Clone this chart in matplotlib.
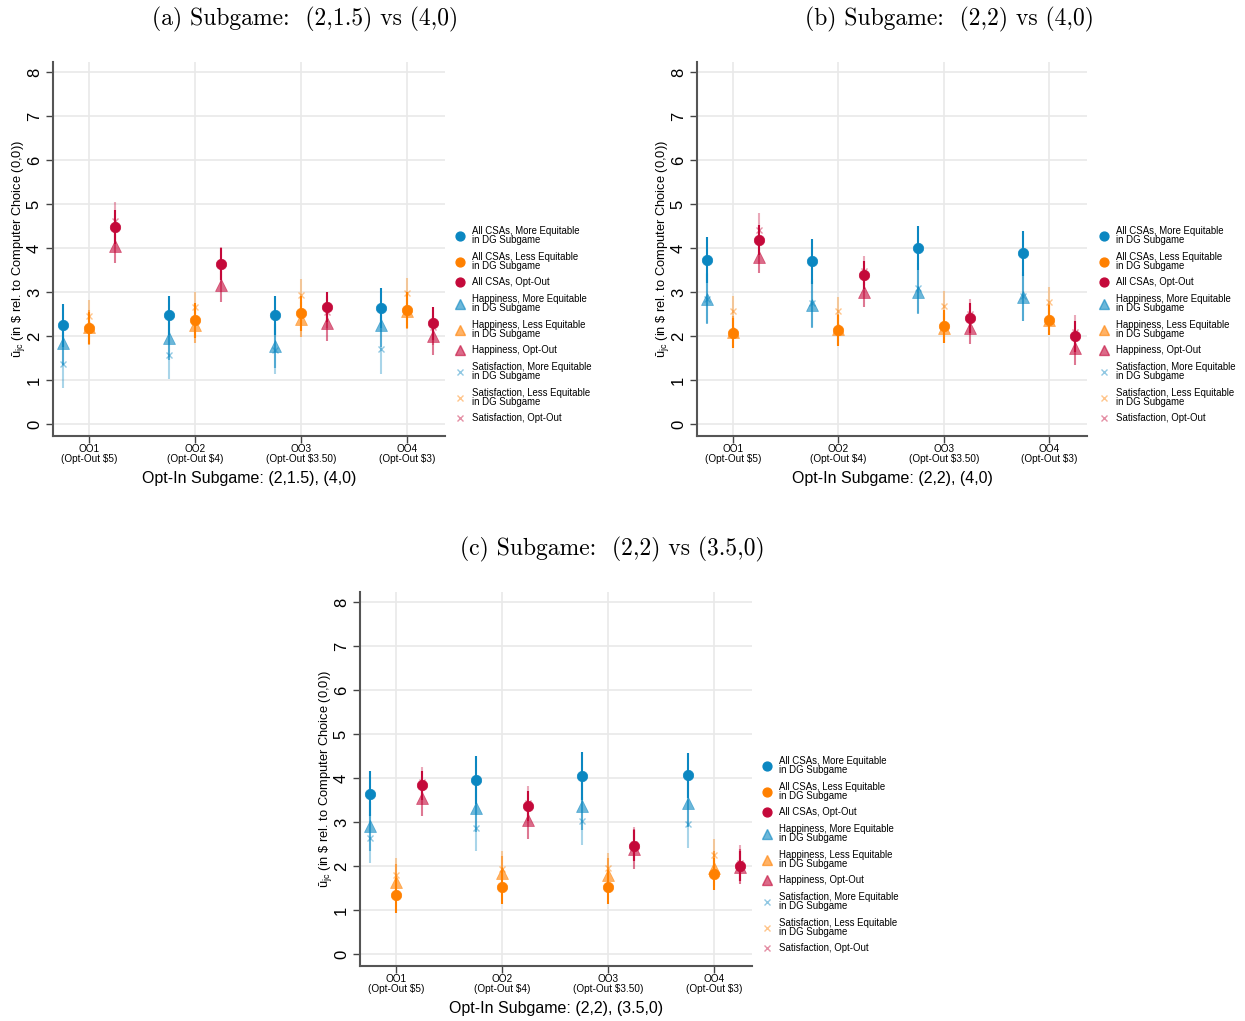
import matplotlib
matplotlib.use("Agg")
import matplotlib.pyplot as plt
from matplotlib.lines import Line2D
import numpy as np

plt.rcParams['font.family'] = ['Liberation Sans', 'DejaVu Sans']
plt.rcParams['mathtext.fontset'] = 'custom'
plt.rcParams['mathtext.rm'] = 'Liberation Sans'
plt.rcParams['mathtext.it'] = 'Liberation Sans'

# ---------------- data ----------------
categories = ["OO1\n(Opt-Out $5)", "OO2\n(Opt-Out $4)", "OO3\n(Opt-Out $3.50)", "OO4\n(Opt-Out $3)"]
legend_labels = [
    "All CSAs, More Equitable\nin DG Subgame",
    "All CSAs, Less Equitable\nin DG Subgame",
    "All CSAs, Opt-Out",
    "Happiness, More Equitable\nin DG Subgame",
    "Happiness, Less Equitable\nin DG Subgame",
    "Happiness, Opt-Out",
    "Satisfaction, More Equitable\nin DG Subgame",
    "Satisfaction, Less Equitable\nin DG Subgame",
    "Satisfaction, Opt-Out",
]
panel_titles = ["(a) Subgame:  (2,1.5) vs (4,0)",
                "(b) Subgame:  (2,2) vs (4,0)",
                "(c) Subgame:  (2,2) vs (3.5,0)"]
xlabels = ["Opt-In Subgame: (2,1.5), (4,0)",
           "Opt-In Subgame: (2,2), (4,0)",
           "Opt-In Subgame: (2,2), (3.5,0)"]

# panel (a): point estimates and 95% CI half-widths
a_all_more = [2.24, 2.47, 2.47, 2.64]
a_all_more_ci = [0.49, 0.45, 0.44, 0.45]
a_all_less = [2.18, 2.36, 2.52, 2.59]
a_all_less_ci = [0.37, 0.40, 0.40, 0.40]
a_all_opt = [4.47, 3.63, 2.66, 2.29]
a_all_opt_ci = [0.39, 0.36, 0.34, 0.37]
a_hap_more = [1.84, 1.95, 1.78, 2.24]
a_hap_more_ci = [0.50, 0.50, 0.50, 0.50]
a_hap_less = [2.20, 2.24, 2.38, 2.56]
a_hap_less_ci = [0.40, 0.40, 0.40, 0.40]
a_hap_opt = [4.04, 3.16, 2.29, 2.01]
a_hap_opt_ci = [0.38, 0.38, 0.40, 0.45]
a_sat_more = [1.36, 1.56, 1.68, 1.70]
a_sat_more_ci = [0.55, 0.54, 0.55, 0.56]
a_sat_less = [2.46, 2.66, 2.94, 2.97]
a_sat_less_ci = [0.36, 0.35, 0.35, 0.35]
a_sat_opt = [4.62, 3.65, 2.55, 2.20]
a_sat_opt_ci = [0.43, 0.38, 0.36, 0.40]

# panel (b)
b_all_more = [3.73, 3.70, 4.00, 3.88]
b_all_more_ci = [0.52, 0.51, 0.51, 0.51]
b_all_less = [2.07, 2.13, 2.22, 2.37]
b_all_less_ci = [0.35, 0.35, 0.38, 0.34]
b_all_opt = [4.19, 3.38, 2.41, 1.99]
b_all_opt_ci = [0.34, 0.32, 0.34, 0.35]
b_hap_more = [2.85, 2.71, 3.00, 2.88]
b_hap_more_ci = [0.58, 0.53, 0.50, 0.53]
b_hap_less = [2.10, 2.15, 2.18, 2.37]
b_hap_less_ci = [0.35, 0.35, 0.35, 0.35]
b_hap_opt = [3.79, 3.01, 2.19, 1.72]
b_hap_opt_ci = [0.36, 0.34, 0.37, 0.38]
b_sat_more = [2.85, 2.75, 3.09, 2.90]
b_sat_more_ci = [0.55, 0.55, 0.57, 0.55]
b_sat_less = [2.57, 2.56, 2.68, 2.78]
b_sat_less_ci = [0.34, 0.32, 0.35, 0.33]
b_sat_opt = [4.42, 3.48, 2.50, 2.10]
b_sat_opt_ci = [0.38, 0.33, 0.34, 0.38]

# panel (c)
c_all_more = [3.64, 3.96, 4.05, 4.06]
c_all_more_ci = [0.51, 0.55, 0.55, 0.51]
c_all_less = [1.33, 1.52, 1.52, 1.82]
c_all_less_ci = [0.40, 0.38, 0.39, 0.37]
c_all_opt = [3.83, 3.36, 2.46, 2.00]
c_all_opt_ci = [0.33, 0.34, 0.35, 0.35]
c_hap_more = [2.90, 3.32, 3.36, 3.44]
c_hap_more_ci = [0.55, 0.55, 0.55, 0.55]
c_hap_less = [1.64, 1.83, 1.79, 1.95]
c_hap_less_ci = [0.40, 0.40, 0.40, 0.40]
c_hap_opt = [3.55, 3.04, 2.39, 1.98]
c_hap_opt_ci = [0.42, 0.42, 0.45, 0.40]
c_sat_more = [2.63, 2.87, 3.02, 2.96]
c_sat_more_ci = [0.56, 0.53, 0.55, 0.54]
c_sat_less = [1.79, 1.94, 1.95, 2.24]
c_sat_less_ci = [0.40, 0.40, 0.35, 0.37]
c_sat_opt = [3.90, 3.43, 2.51, 2.07]
c_sat_opt_ci = [0.36, 0.38, 0.38, 0.40]

panels = [
    [(a_all_more, a_all_more_ci), (a_all_less, a_all_less_ci), (a_all_opt, a_all_opt_ci),
     (a_hap_more, a_hap_more_ci), (a_hap_less, a_hap_less_ci), (a_hap_opt, a_hap_opt_ci),
     (a_sat_more, a_sat_more_ci), (a_sat_less, a_sat_less_ci), (a_sat_opt, a_sat_opt_ci)],
    [(b_all_more, b_all_more_ci), (b_all_less, b_all_less_ci), (b_all_opt, b_all_opt_ci),
     (b_hap_more, b_hap_more_ci), (b_hap_less, b_hap_less_ci), (b_hap_opt, b_hap_opt_ci),
     (b_sat_more, b_sat_more_ci), (b_sat_less, b_sat_less_ci), (b_sat_opt, b_sat_opt_ci)],
    [(c_all_more, c_all_more_ci), (c_all_less, c_all_less_ci), (c_all_opt, c_all_opt_ci),
     (c_hap_more, c_hap_more_ci), (c_hap_less, c_hap_less_ci), (c_hap_opt, c_hap_opt_ci),
     (c_sat_more, c_sat_more_ci), (c_sat_less, c_sat_less_ci), (c_sat_opt, c_sat_opt_ci)],
]

# ---------------- style ----------------
BLUE, ORANGE, RED = '#0b87c1', '#ff8000', '#c4093a'
colors = [BLUE, ORANGE, RED] * 3
markers = ['o'] * 3 + ['^'] * 3 + ['x'] * 3
msizes = [7.5] * 3 + [8.5] * 3 + [4.5] * 3
m_alpha = [1.0] * 3 + [0.6] * 3 + [0.45] * 3
ci_alpha = [1.0] * 3 + [0.55] * 3 + [0.35] * 3
offsets = [-0.245, 0.0, 0.245] * 3

W, H = 1245, 1021
fig = plt.figure(figsize=(W / 100, H / 100), dpi=100)

# axes boxes in pixels: left, top, right, bottom
boxes = [(53, 62, 445, 436), (697, 62, 1087, 436), (360, 592, 752, 966)]
legend_pos = [(455.5, 226), (1099.5, 226), (762.5, 756)]
title_pos = [(305, 19), (949, 19), (612, 549)]

x = np.arange(1, 5)
for p in range(3):
    l, t, r, b = boxes[p]
    ax = fig.add_axes([l / W, 1 - b / H, (r - l) / W, (b - t) / H])
    # draw satisfaction, happiness, then all CSAs on top
    for s in [6, 7, 8, 3, 4, 5, 0, 1, 2]:
        vals, ci = panels[p][s]
        xs = x + offsets[s]
        ax.errorbar(xs, vals, yerr=ci, fmt='none', ecolor=colors[s],
                    elinewidth=1.5, alpha=ci_alpha[s], capsize=0, zorder=2)
        ax.plot(xs, vals, linestyle='none', marker=markers[s], markersize=msizes[s],
                color=colors[s], alpha=m_alpha[s], markeredgewidth=1.0 if s >= 6 else 0.5,
                zorder=3 + (2 - s // 3))
    ax.set_xlim(0.66, 4.358)
    ax.set_ylim(-0.273, 8.227)
    ax.set_yticks(range(0, 9))
    ax.set_xticks(x)
    ax.set_xticklabels(categories, fontsize=7.2, linespacing=1.0)
    ax.tick_params(axis='y', labelsize=12, rotation=90, length=5, width=1.0, color='#444444', pad=3)
    ax.tick_params(axis='x', length=5, width=1.0, color='#444444', pad=0.5)
    for lab in ax.get_yticklabels():
        lab.set_va('center')
    ax.grid(True, color='#e9e9e9', linewidth=1.2, zorder=0)
    ax.set_axisbelow(True)
    for side in ['top', 'right']:
        ax.spines[side].set_visible(False)
    for side in ['left', 'bottom']:
        ax.spines[side].set_color('#555555')
        ax.spines[side].set_linewidth(1.5)
    ax.set_xlabel(xlabels[p], fontsize=11.5, labelpad=5)
    ax.set_ylabel(r"ū$_{\mathrm{jc}}$ (in \$ rel. to Computer Choice (0,0))", fontsize=9.3, labelpad=0)

    handles = [Line2D([], [], linestyle='none', marker=markers[s], markersize=msizes[s] * 0.85,
                      color=colors[s], alpha=m_alpha[s]) for s in range(9)]
    lx, ly = legend_pos[p]
    leg = fig.legend(handles, legend_labels, loc='upper left', bbox_to_anchor=(lx / W, 1 - ly / H),
                     frameon=False, fontsize=6.9, borderpad=0, borderaxespad=0, handlelength=1.0,
                     handletextpad=0.75, labelspacing=0.68)
    for txt in leg.get_texts():
        txt.set_linespacing(0.9)

    tx, ty = title_pos[p]
    fig.text(tx / W, 1 - ty / H, panel_titles[p], family='cmr10', fontsize=17,
             ha='center', va='center')

fig.savefig("out.png", dpi=100)
